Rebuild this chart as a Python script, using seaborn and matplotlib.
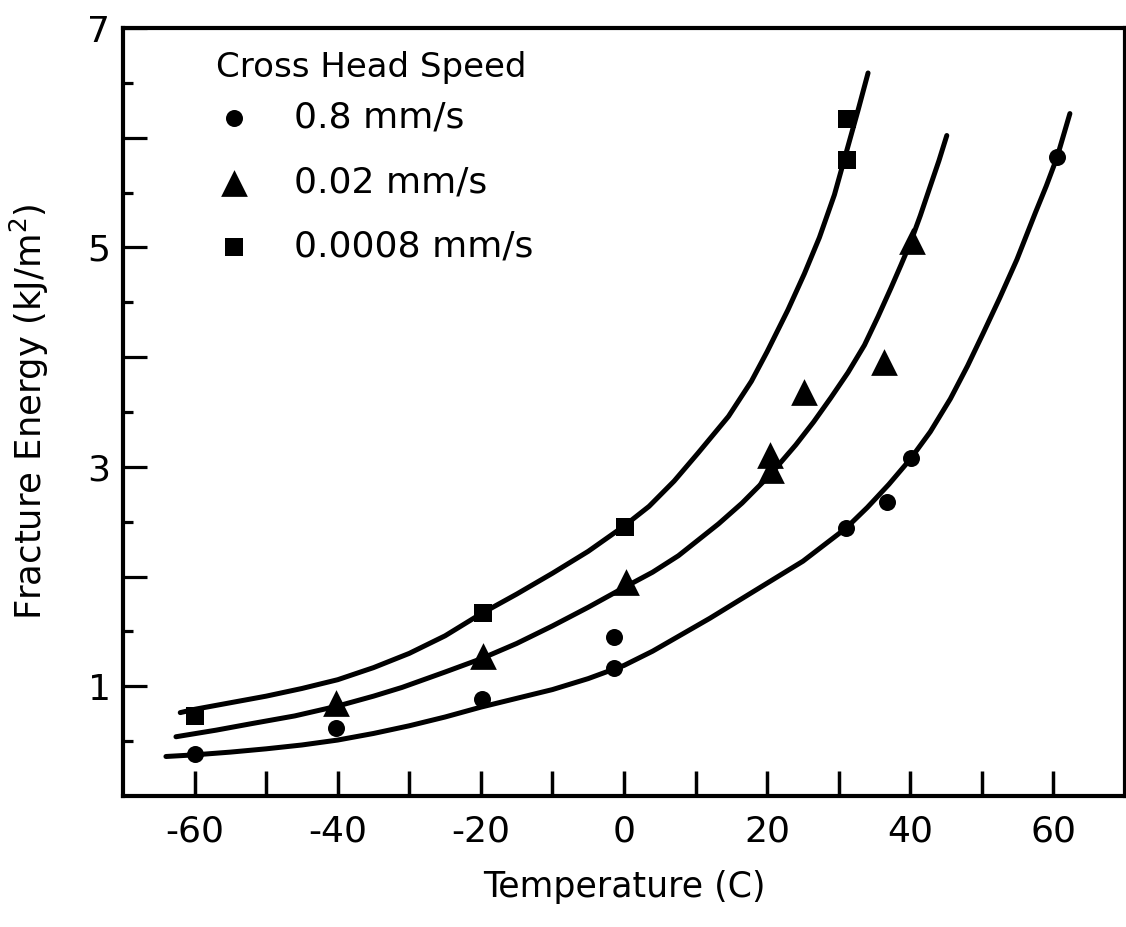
import matplotlib
matplotlib.use("Agg")
import matplotlib.pyplot as plt
import seaborn as sns

# ---- data ----
# measured points
circ_T = [-60, -40.3, -19.9, -1.4, -1.4, 31.0, 36.8, 40.1, 60.5]
circ_E = [0.38, 0.62, 0.88, 1.45, 1.17, 2.44, 2.68, 3.08, 5.82]
tri_T = [-40.3, -19.7, 0.3, 20.4, 20.6, 25.2, 36.3, 40.3]
tri_E = [0.85, 1.28, 1.95, 3.11, 2.97, 3.68, 3.96, 5.06]
sq_T = [-60, -19.7, 0.2, 31.2, 31.2]
sq_E = [0.73, 1.67, 2.45, 5.80, 6.17]

# fitted curves
sq_curve_T = [-62, -60, -55, -50, -45, -40, -35, -30, -25, -20, -15, -10, -5, 0,
              3.5, 7, 10.4, 14.6, 17.8, 20, 22.9, 25.2, 27.3, 29.4, 31.2, 32.7, 34.1]
sq_curve_E = [0.76, 0.79, 0.85, 0.91, 0.98, 1.06, 1.17, 1.30, 1.46, 1.66, 1.84,
              2.03, 2.23, 2.46, 2.64, 2.87, 3.13, 3.46, 3.78, 4.05, 4.43, 4.76,
              5.09, 5.48, 5.90, 6.25, 6.59]
tri_curve_T = [-62.6, -57, -52, -46, -40, -35, -31, -25, -20, -15, -10, -5, 0, 4,
               7.6, 10.5, 13.2, 16.5, 19.7, 21.5, 24, 26.5, 28.9, 31.3, 33.6, 35.5,
               37.3, 38.7, 40, 41.4, 42.8, 44, 45.1]
tri_curve_E = [0.54, 0.60, 0.66, 0.73, 0.82, 0.91, 0.99, 1.13, 1.25, 1.39, 1.55,
               1.72, 1.90, 2.04, 2.19, 2.34, 2.48, 2.67, 2.88, 3.01, 3.20, 3.41,
               3.63, 3.86, 4.11, 4.37, 4.63, 4.84, 5.04, 5.29, 5.56, 5.79, 6.02]
circ_curve_T = [-64, -60, -55, -50, -45, -40, -35, -30, -25, -20, -15, -10, -5, 0,
                4, 8, 12, 15, 18, 21.5, 25, 28, 31, 34, 37, 40, 42.8, 45.6, 48,
                50.2, 52.5, 54.9, 57.5, 59, 60.5, 62.3]
circ_curve_E = [0.36, 0.375, 0.40, 0.43, 0.465, 0.51, 0.57, 0.64, 0.72, 0.81, 0.89,
                0.97, 1.07, 1.19, 1.32, 1.47, 1.62, 1.74, 1.86, 2.00, 2.14, 2.29,
                2.44, 2.63, 2.84, 3.07, 3.32, 3.62, 3.92, 4.22, 4.54, 4.89, 5.32,
                5.56, 5.82, 6.22]

series_labels = ["0.8 mm/s", "0.02 mm/s", "0.0008 mm/s"]
legend_title = "Cross Head Speed"
x_major = [-60, -40, -20, 0, 20, 40, 60]
x_major_labels = ["-60", "-40", "-20", "0", "20", "40", "60"]
x_minor = [-50, -30, -10, 10, 30, 50]
y_major = [1, 2, 3, 4, 5, 6, 7]
y_major_labels = ["1", "", "3", "", "5", "", "7"]
y_minor = [0.5, 1.5, 2.5, 3.5, 4.5, 5.5, 6.5]

# ---- drawing ----
sns.set_theme(style="ticks")
plt.rcParams["font.family"] = ["DejaVu Sans"]

fig = plt.figure(figsize=(11.26, 9.27), dpi=100)
ax = fig.add_axes([123 / 1126, 1 - 796 / 927, 1002 / 1126, (796 - 28) / 927])

lw = 3.6
for cx, cy in [(sq_curve_T, sq_curve_E), (tri_curve_T, tri_curve_E),
               (circ_curve_T, circ_curve_E)]:
    sns.lineplot(x=cx, y=cy, ax=ax, color="black", linewidth=lw, sort=False,
                 estimator=None, solid_capstyle="round", solid_joinstyle="round")

sns.scatterplot(x=circ_T, y=circ_E, ax=ax, marker="o", s=150, color="black",
                linewidth=0, label=series_labels[0], zorder=3)
sns.scatterplot(x=tri_T, y=tri_E, ax=ax, marker="^", s=370, color="black",
                linewidth=0, label=series_labels[1], zorder=3)
sns.scatterplot(x=sq_T, y=sq_E, ax=ax, marker="s", s=175, color="black",
                linewidth=0, label=series_labels[2], zorder=3)

ax.set_xlim(-70, 70)
ax.set_ylim(0, 7)

ax.set_xticks(x_major)
ax.set_xticklabels(x_major_labels)
ax.set_xticks(x_minor, minor=True)
ax.set_yticks(y_major)
ax.set_yticklabels(y_major_labels)
ax.set_yticks(y_minor, minor=True)

ax.tick_params(axis="x", which="both", direction="in", length=18, width=2.5,
               color="black", bottom=True, top=False, labelsize=26, pad=13,
               labelcolor="black")
ax.tick_params(axis="y", which="major", direction="in", length=17, width=2.3,
               color="black", left=True, right=False, labelsize=26, pad=9,
               labelcolor="black")
ax.tick_params(axis="y", which="minor", direction="in", length=7, width=2.3,
               color="black", left=True, right=False)

for s in ax.spines.values():
    s.set_visible(True)
    s.set_color("black")
    s.set_linewidth(3)

ax.set_xlabel("Temperature (C)", fontsize=25, color="black")
ax.set_ylabel(r"Fracture Energy (kJ/m$^2$)", fontsize=25.5, color="black")
ax.xaxis.set_label_coords(0.5, -0.097)
ax.yaxis.set_label_coords(-0.072, 0.5)

leg = ax.legend(loc="upper left", bbox_to_anchor=(0.093, 0.905), frameon=False,
                fontsize=26, handlelength=1.0, handletextpad=1.15,
                labelspacing=0.84, borderaxespad=0, borderpad=0)
for t in leg.get_texts():
    t.set_color("black")
ax.text((216 - 123) / 1002, (796 - 67) / 768, legend_title, transform=ax.transAxes,
        ha="left", va="center", fontsize=24.5, color="black")

fig.savefig("out.png", dpi=100, facecolor="white")
